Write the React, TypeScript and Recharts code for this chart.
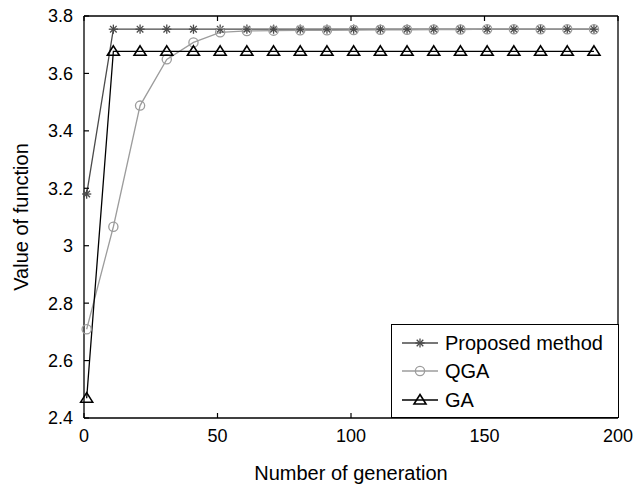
import { Legend, Line, LineChart, XAxis, YAxis } from "recharts";

const generations = [1, 11, 21, 31, 41, 51, 61, 71, 81, 91, 101, 111, 121, 131, 141, 151, 161, 171, 181, 191];
const proposedValues = [3.18, 3.754, 3.754, 3.754, 3.754, 3.754, 3.754, 3.754, 3.754, 3.754, 3.754, 3.754, 3.754, 3.754, 3.754, 3.754, 3.754, 3.754, 3.754, 3.754];
const qgaValues = [2.709, 3.066, 3.488, 3.649, 3.708, 3.743, 3.748, 3.749, 3.75, 3.75, 3.751, 3.752, 3.752, 3.753, 3.753, 3.754, 3.754, 3.754, 3.754, 3.754];
const gaValues = [2.469, 3.677, 3.677, 3.677, 3.677, 3.677, 3.677, 3.677, 3.677, 3.677, 3.677, 3.677, 3.677, 3.677, 3.677, 3.677, 3.677, 3.677, 3.677, 3.677];

const xTicks = [0, 50, 100, 150, 200];
const yTicks = [2.4, 2.6, 2.8, 3, 3.2, 3.4, 3.6, 3.8];
const seriesNames = ["Proposed method", "QGA", "GA"];

const rows = generations.map((g, i) => ({
  g,
  proposed: proposedValues[i],
  qga: qgaValues[i],
  ga: gaValues[i],
}));

const PROPOSED = "#4a4a4a";
const QGA = "#9c9c9c";
const GA = "#000000";
const TICK_GAP = 11;
const TICK_LEN = 5;

function star(cx: number, cy: number, color: string, key?: string | number) {
  const r = 4.6;
  const d = 3.3;
  return (
    <g key={key} stroke={color} strokeWidth={1.3}>
      <line x1={cx} y1={cy - r} x2={cx} y2={cy + r} />
      <line x1={cx - r} y1={cy} x2={cx + r} y2={cy} />
      <line x1={cx - d} y1={cy - d} x2={cx + d} y2={cy + d} />
      <line x1={cx - d} y1={cy + d} x2={cx + d} y2={cy - d} />
    </g>
  );
}

function circle(cx: number, cy: number, color: string, key?: string | number) {
  return <circle key={key} cx={cx} cy={cy} r={4.6} fill="none" stroke={color} strokeWidth={1.3} />;
}

function triangle(cx: number, cy: number, color: string, key?: string | number) {
  return (
    <path
      key={key}
      d={`M${cx},${cy - 5.5} L${cx + 6},${cy + 4} L${cx - 6},${cy + 4} Z`}
      fill="none"
      stroke={color}
      strokeWidth={1.6}
    />
  );
}

const markers = [
  (cx: number, cy: number, k?: string | number) => star(cx, cy, PROPOSED, k),
  (cx: number, cy: number, k?: string | number) => circle(cx, cy, QGA, k),
  (cx: number, cy: number, k?: string | number) => triangle(cx, cy, GA, k),
];
const colors = [PROPOSED, QGA, GA];

function BottomTick(props: any) {
  const { x, y, payload } = props;
  const axisY = y - TICK_GAP;
  return (
    <g>
      <line x1={x} y1={axisY} x2={x} y2={axisY - TICK_LEN} stroke="#000" strokeWidth={1.2} />
      <text x={x} y={y} dy="0.71em" textAnchor="middle" fontSize={18} fill="#000">
        {payload.value}
      </text>
    </g>
  );
}

function LeftTick(props: any) {
  const { x, y, payload } = props;
  const axisX = x + TICK_GAP;
  return (
    <g>
      <line x1={axisX} y1={y} x2={axisX + TICK_LEN} y2={y} stroke="#000" strokeWidth={1.2} />
      <text x={x} y={y} dy="0.355em" textAnchor="end" fontSize={18} fill="#000">
        {payload.value}
      </text>
    </g>
  );
}

function TopTick(props: any) {
  const { x, y } = props;
  return <line x1={x} y1={y} x2={x} y2={y + TICK_LEN} stroke="#000" strokeWidth={1.2} />;
}

function RightTick(props: any) {
  const { x, y } = props;
  return <line x1={x} y1={y} x2={x - TICK_LEN} y2={y} stroke="#000" strokeWidth={1.2} />;
}

function LegendBox() {
  const rowY = [18, 46, 75];
  return (
    <div style={{ width: 228, height: 94, border: "1px solid #000", background: "#fff", boxSizing: "border-box" }}>
      <svg width={226} height={92} style={{ display: "block" }}>
        {seriesNames.map((name, i) => (
          <g key={name}>
            <line x1={10} y1={rowY[i]} x2={46} y2={rowY[i]} stroke={colors[i]} strokeWidth={1.3} />
            {markers[i](28, rowY[i])}
            <text x={53} y={rowY[i]} dy="0.355em" fontSize={20} fill="#000">
              {name}
            </text>
          </g>
        ))}
      </svg>
    </div>
  );
}

export default function App() {
  return (
    <div style={{ position: "fixed", left: 0, top: 0, background: "#fff", fontFamily: "'Liberation Sans', Arial, sans-serif" }}>
      <LineChart width={635} height={487} data={rows} margin={{ top: 15, right: 16, bottom: 0, left: 0 }}>
        <XAxis
          dataKey="g"
          type="number"
          domain={[0, 200]}
          ticks={xTicks}
          height={69}
          tickSize={0}
          tickMargin={TICK_GAP}
          tick={BottomTick}
          axisLine={{ stroke: "#000", strokeWidth: 1.3 }}
          label={{ value: "Number of generation", position: "insideBottom", offset: 7, fontSize: 20, fill: "#000" }}
        />
        <XAxis
          xAxisId="top"
          orientation="top"
          dataKey="g"
          type="number"
          domain={[0, 200]}
          ticks={xTicks}
          height={1}
          tickSize={0}
          tickMargin={0}
          tick={TopTick}
          axisLine={{ stroke: "#000", strokeWidth: 1.3 }}
        />
        <YAxis
          type="number"
          domain={[2.4, 3.8]}
          ticks={yTicks}
          width={84}
          tickSize={0}
          tickMargin={TICK_GAP}
          tick={LeftTick}
          axisLine={{ stroke: "#000", strokeWidth: 1.3 }}
          label={{
            value: "Value of function",
            angle: -90,
            position: "insideLeft",
            offset: 21,
            fontSize: 20,
            fill: "#000",
            style: { textAnchor: "middle" },
          }}
        />
        <YAxis
          yAxisId="right"
          orientation="right"
          type="number"
          domain={[2.4, 3.8]}
          ticks={yTicks}
          width={1}
          tickSize={0}
          tickMargin={0}
          tick={RightTick}
          axisLine={{ stroke: "#000", strokeWidth: 1.3 }}
        />
        <Line
          dataKey="proposed"
          name={seriesNames[0]}
          stroke={PROPOSED}
          strokeWidth={1.3}
          isAnimationActive={false}
          dot={(p: any) => star(p.cx, p.cy, PROPOSED, p.index)}
        />
        <Line
          dataKey="qga"
          name={seriesNames[1]}
          stroke={QGA}
          strokeWidth={1.3}
          isAnimationActive={false}
          dot={(p: any) => circle(p.cx, p.cy, QGA, p.index)}
        />
        <Line
          dataKey="ga"
          name={seriesNames[2]}
          stroke={GA}
          strokeWidth={1.3}
          isAnimationActive={false}
          dot={(p: any) => triangle(p.cx, p.cy, GA, p.index)}
        />
        <Legend
          layout="vertical"
          align="center"
          verticalAlign="middle"
          content={() => <LegendBox />}
          wrapperStyle={{ left: 391, top: 324, width: 228, height: 94 }}
        />
      </LineChart>
    </div>
  );
}
